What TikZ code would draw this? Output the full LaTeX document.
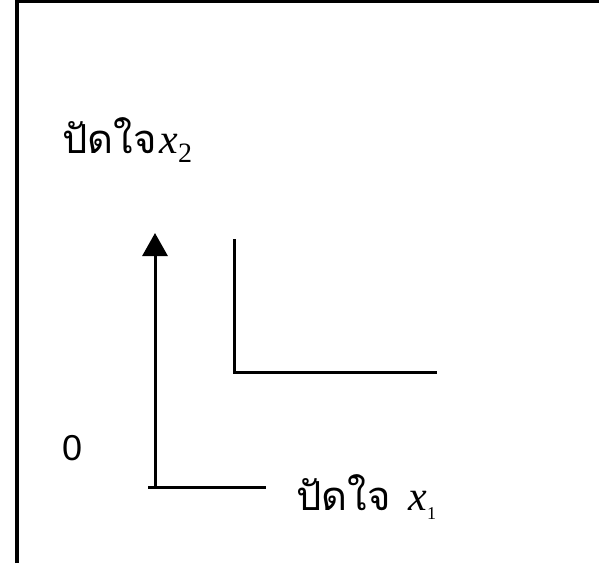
\documentclass[tikz,border=0pt]{standalone}
\usepackage{fontspec}
\usetikzlibrary{arrows.meta}
\newfontfamily\thaifont[Script=Thai]{Loma}
\newfontfamily\digitfont{Liberation Sans}
\newfontfamily\varfont{Liberation Serif}
\newcommand{\varx}[2]{{\varfont\itshape\fontsize{42}{46}\selectfont x}\raisebox{-9pt}{\varfont\fontsize{#2}{#2}\selectfont #1}}
\tikzset{
  axisline/.style={line width=3pt},
  lbl/.style={inner sep=0pt, anchor=base west, font=\thaifont\fontsize{40}{44}\selectfont},
}
\begin{document}
\begin{tikzpicture}[x=1pt,y=-1pt,>={Triangle[width=25pt,length=23pt]}, line join=miter]
	\useasboundingbox (0,0) rectangle (599,563);
	\def\ox{155} \def\oy{487} % origin
	\def\cx{234} \def\cy{372} % corner
	% frame
	\draw[line width=3.5pt] (17,563)--(17,1.5)--(599,1.5);
	% axes
	\coordinate (O) at (\ox,\oy);
	\coordinate (Ytop) at (\ox,233);
	\coordinate (Xl) at (148,\oy);
	\coordinate (Xr) at (266,\oy);
	\draw[axisline,->] (O)--(Ytop);
	\draw[axisline] (Xl)--(Xr);
	% L shape
	\coordinate (C) at (\cx,\cy);
	\coordinate (Ctop) at (\cx,239);
	\coordinate (Cright) at (437,\cy);
	\draw[axisline] (Ctop)--(C)--(Cright);
	% labels
	\node[lbl] (ylab) at (62,153) {ปัดใจ\hspace{3pt}\varx{2}{28}};
	\node[lbl] (xlab) at (296,510) {ปัดใจ\hspace{18pt}\varx{1}{18}};
	\node[inner sep=0pt, anchor=base west, font=\digitfont\fontsize{36}{40}\selectfont] (zero) at (62,460) {0};
\end{tikzpicture}
\end{document}
